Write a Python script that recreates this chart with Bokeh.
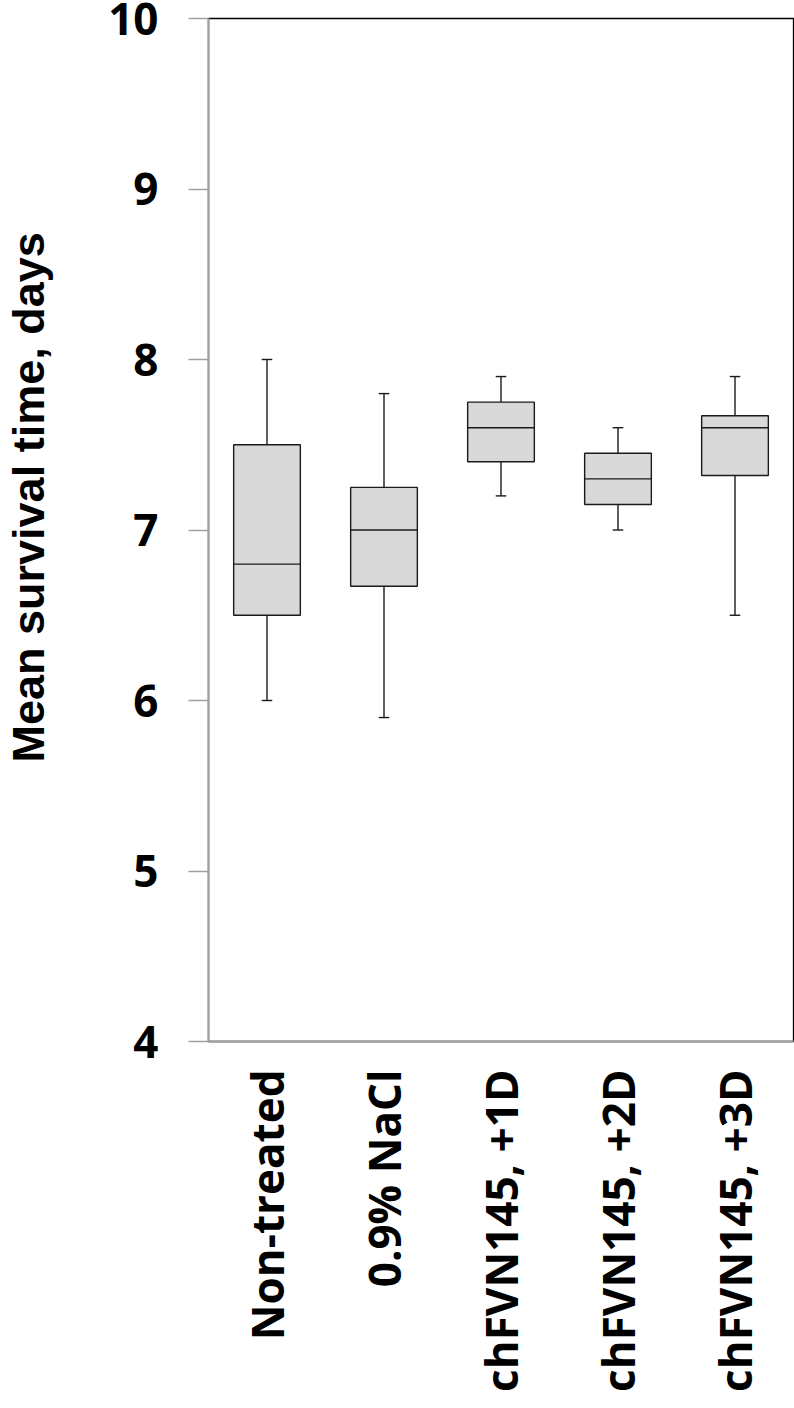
import math
from bokeh.plotting import figure
from bokeh.models import FactorRange, Range1d, FixedTicker, ColumnDataSource, Title
from bokeh.transform import dodge
from bokeh.embed import file_html
from bokeh.resources import INLINE

categories = ["Non-treated", "0.9% NaCl", "chFVN145, +1D", "chFVN145, +2D", "chFVN145, +3D"]
whisker_low = [6.0, 5.9, 7.2, 7.0, 6.5]
quartile1 = [6.5, 6.67, 7.4, 7.15, 7.32]
medians = [6.8, 7.0, 7.6, 7.3, 7.6]
quartile3 = [7.5, 7.25, 7.75, 7.45, 7.67]
whisker_high = [8.0, 7.8, 7.9, 7.6, 7.9]
y_ticks = [4, 5, 6, 7, 8, 9, 10]
y_label = "Mean survival time, days"

FONT = "Open Sans"
TITLE_FONT = "Liberation Sans"
LINE = "#1a1a1a"
AXIS_GRAY = "#a0a0a0"

src = ColumnDataSource(dict(cat=categories, lo=whisker_low, q1=quartile1,
                            med=medians, q3=quartile3, hi=whisker_high))

p = figure(x_range=FactorRange(factors=categories, range_padding=0),
           y_range=Range1d(4, 10),
           width=794, height=1408, output_backend="svg", toolbar_location=None,
           min_border_left=207, min_border_right=1, min_border_top=18,
           min_border_bottom=367)

p.background_fill_color = "white"
p.border_fill_color = "white"
p.outline_line_color = "black"
p.outline_line_width = 1.3
p.xgrid.grid_line_color = None
p.ygrid.grid_line_color = None

# whiskers
p.segment(x0="cat", x1="cat", y0="q3", y1="hi", source=src, line_color=LINE, line_width=1.4)
p.segment(x0="cat", x1="cat", y0="lo", y1="q1", source=src, line_color=LINE, line_width=1.4)
cap = 0.045
for ycol in ["lo", "hi"]:
    p.segment(x0=dodge("cat", -cap, range=p.x_range), x1=dodge("cat", cap, range=p.x_range),
              y0=ycol, y1=ycol, source=src, line_color=LINE, line_width=1.4)

# boxes
p.vbar(x="cat", width=0.57, bottom="q1", top="q3", source=src,
       fill_color="#d9d9d9", line_color=LINE, line_width=1.4)
p.segment(x0=dodge("cat", -0.285, range=p.x_range), x1=dodge("cat", 0.285, range=p.x_range),
          y0="med", y1="med", source=src, line_color=LINE, line_width=1.4)

# y axis
ya = p.yaxis[0]
ya.ticker = FixedTicker(ticks=y_ticks)
ya.minor_tick_line_color = None
ya.major_tick_in = 0
ya.major_tick_out = 20
ya.major_tick_line_color = AXIS_GRAY
ya.major_tick_line_width = 1.5
ya.axis_line_color = AXIS_GRAY
ya.axis_line_width = 2
ya.major_label_standoff = 30
ya.major_label_text_font = FONT
ya.major_label_text_font_style = "bold"
ya.major_label_text_font_size = "44px"
ya.major_label_text_color = "black"
# invisible spacer label that keeps the title away from the tick labels
ya.axis_label = "\u00a0"
ya.axis_label_text_font_size = "1px"
ya.axis_label_standoff = 48

# x axis
xa = p.xaxis[0]
xa.major_tick_line_color = None
xa.minor_tick_line_color = None
xa.major_tick_in = 0
xa.major_tick_out = 0
xa.axis_line_color = AXIS_GRAY
xa.axis_line_width = 2
xa.major_label_orientation = math.pi / 2
xa.major_label_standoff = 28
xa.major_label_text_font = FONT
xa.major_label_text_font_style = "bold"
xa.major_label_text_font_size = "44px"
xa.major_label_text_color = "black"

title = Title(text=y_label, align="left", offset=279, standoff=0,
              text_font=TITLE_FONT, text_font_style="bold", text_font_size="45px",
              text_color="black")
p.add_layout(title, "left")

open("out.html", "w").write(file_html(p, INLINE))
